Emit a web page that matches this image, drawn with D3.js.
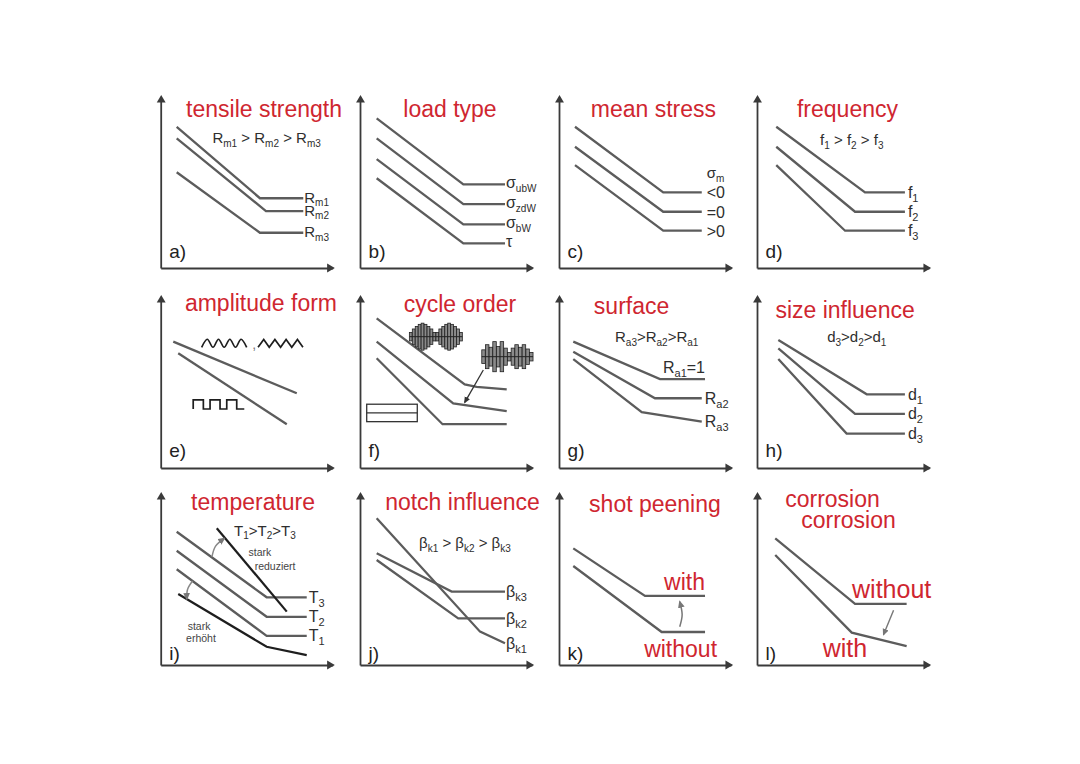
<!DOCTYPE html>
<html>
<head>
<meta charset="utf-8">
<script src="https://cdn.jsdelivr.net/npm/d3@7"></script>
<style>
  body { margin: 0; background: #fff; }
  svg { display: block; font-family: "Liberation Sans", Arial, sans-serif; }
</style>
</head>
<body>
<svg id="chart" width="1080" height="764"></svg>
<script>
// ---- data (curve points are in 0..100 panel units, x = life, y = stress) ----
const panelLetters = ["a)", "b)", "c)", "d)", "e)", "f)", "g)", "h)", "i)", "j)", "k)", "l)"];
const panelTitles = [
  ["tensile strength"], ["load type"], ["mean stress"], ["frequency"],
  ["amplitude form"], ["cycle order"], ["surface"], ["size influence"],
  ["temperature"], ["notch influence"], ["shot peening"], ["corrosion", "corrosion"]
];
// "_xx" marks a subscript
const relationTexts = ["R_m1 > R_m2 > R_m3", "", "", "f_1 > f_2 > f_3", "", "",
  "R_a3>R_a2>R_a1", "d_3>d_2>d_1", "T_1>T_2>T_3", "β_k1 > β_k2 > β_k3", "", ""];

const tensileCurves = [
  { label: "R_m1", pts: [[9.3, 82.6], [57.7, 40.8], [82.9, 40.8]] },
  { label: "R_m2", pts: [[9.3, 75.8], [61.2, 33.3], [82.9, 33.3]] },
  { label: "R_m3", pts: [[9.3, 56.0], [57.7, 20.6], [82.9, 20.6]] }
];
const loadCurves = [
  { label: "σ_ubW", pts: [[9.7, 87.5], [60.1, 48.9], [84.3, 48.9]] },
  { label: "σ_zdW", pts: [[9.7, 75.8], [60.1, 37.3], [84.3, 37.3]] },
  { label: "σ_bW", pts: [[9.7, 63.7], [60.1, 25.5], [84.3, 25.5]] },
  { label: "τ", pts: [[9.7, 52.5], [60.1, 14.4], [84.3, 14.4]] }
];
const meanStressCurves = [
  { label: "<0", pts: [[9.3, 82.6], [60.6, 44.2], [83.0, 44.2]] },
  { label: "=0", pts: [[9.3, 70.9], [60.6, 32.9], [83.0, 32.9]] },
  { label: ">0", pts: [[9.3, 60.2], [60.6, 21.8], [83.0, 21.8]] }
];
const frequencyCurves = [
  { label: "f_1", pts: [[11.2, 82.6], [62.8, 44.2], [86.0, 44.2]] },
  { label: "f_2", pts: [[11.2, 70.9], [57.0, 32.9], [86.0, 32.9]] },
  { label: "f_3", pts: [[11.2, 60.2], [51.2, 21.8], [86.0, 21.8]] }
];
const amplitudeCurves = [
  { pts: [[7.3, 73.9], [79.1, 43.7]] },
  { pts: [[10.2, 67.1], [73.3, 25.6]] }
];
const cycleCurves = [
  { pts: [[9.7, 87.5], [60.9, 48.9], [67.8, 47.5], [85.3, 46.0]] },
  { pts: [[9.7, 73.9], [54.2, 37.8], [85.3, 33.3]] },
  { pts: [[9.7, 64.2], [48.0, 25.6], [85.3, 25.6]] }
];
const surfaceCurves = [
  { label: "R_a1=1", pts: [[8.3, 73.9], [58.7, 52.0], [84.9, 52.0]] },
  { label: "R_a2", pts: [[8.3, 68.0], [55.8, 40.8], [83.0, 40.8]] },
  { label: "R_a3", pts: [[8.3, 63.7], [48.1, 32.6], [83.0, 27.1]] }
];
const sizeCurves = [
  { label: "d_1", pts: [[12.4, 74.9], [63.8, 43.1], [86.0, 43.1]] },
  { label: "d_2", pts: [[12.4, 70.0], [57.0, 31.6], [86.0, 31.6]] },
  { label: "d_3", pts: [[12.4, 63.7], [52.1, 20.1], [86.0, 20.1]] }
];
const temperatureCurves = [
  { label: "T_3", pts: [[9.3, 77.9], [61.6, 39.6], [84.9, 39.6]] },
  { label: "T_2", pts: [[9.3, 66.8], [61.6, 28.2], [84.9, 28.2]] },
  { label: "T_1", pts: [[9.3, 56.0], [61.6, 17.0], [84.9, 17.0]] },
  { pts: [[10.2, 41.5], [61.6, 10.7], [84.9, 5.8]] },   // stark erhöht
  { pts: [[32.6, 80.0], [73.3, 31.2]] }                 // stark reduziert
];
const notchCurves = [
  { label: "β_k3", pts: [[9.7, 65.3], [53.3, 42.9], [84.3, 42.9]] },
  { label: "β_k2", pts: [[9.7, 61.4], [57.1, 27.3], [84.3, 27.3]] },
  { label: "β_k1", pts: [[9.7, 85.8], [69.8, 19.5], [84.3, 12.7]] }
];
const peeningCurves = [
  { label: "with", pts: [[8.3, 68.2], [50.0, 40.4], [84.9, 40.4]] },
  { label: "without", pts: [[8.3, 57.9], [59.7, 19.3], [84.9, 19.3]] }
];
const corrosionCurves = [
  { label: "without", pts: [[10.6, 74.1], [57.0, 35.7], [87.0, 35.7]] },
  { label: "with", pts: [[10.6, 64.3], [55.1, 18.9], [87.0, 11.1]] }
];
const temperatureNotes = ["stark", "reduziert", "stark", "erhöht"];

// little signal sketches
const sineWave = [[23.8, 70.6], [27.1, 75.3], [30.4, 70.6], [33.6, 75.3], [36.9, 70.6],
  [40.2, 75.3], [43.5, 70.6], [46.7, 75.3], [50.0, 70.6]];
const triangleWave = [[56.6, 70.6], [59.9, 75.2], [63.1, 70.6], [66.4, 75.2], [69.7, 70.6],
  [72.9, 75.2], [76.2, 70.6], [79.5, 75.2], [82.7, 70.6]];
const squareWave = [[18.9, 34.5], [18.9, 39.8], [24.8, 39.8], [24.8, 34.5], [28.7, 34.5],
  [28.7, 39.8], [34.5, 39.8], [34.5, 34.5], [38.4, 34.5], [38.4, 39.8], [44.2, 39.8],
  [44.2, 34.5], [48.6, 34.5]];
const blockSeqA = [2.5, 4.5, 6, 7.2, 7.9, 7.2, 6, 4.5, 2.5, 2.5, 4.5, 6, 7.2, 7.9, 7.2, 6, 4.5, 2.5];
const blockSeqB = [4, 7, 5.5, 8.8, 6, 8.8, 5, 2.5, 5, 7, 5.5, 7, 4.5, 2.5];
const constBlock = [[3.9, 27.1], [33.3, 37.3]];

const cycleArrow = [[71.7, 57.3], [60.9, 38.4]];
const peeningArrow = [[70.2, 22.4], [71.6, 29.5], [70.2, 37.0]];
const corrosionArrow = [[79.4, 32.0], [73.6, 17.8]];
const tempArcs = [
  [[29.8, 63.2], [31.9, 69.5], [37.0, 74.0]],
  [[18.5, 49.1], [15.6, 44.2], [15.2, 38.6]]
];

const panelCurves = [tensileCurves, loadCurves, meanStressCurves, frequencyCurves,
  amplitudeCurves, cycleCurves, surfaceCurves, sizeCurves,
  temperatureCurves, notchCurves, peeningCurves, corrosionCurves];

// ---- layout ----
const colX = [160.7, 360, 559, 757];
const rowBottom = [268, 468, 665];
const axisW = 172, axisH = 171;
const titlePos = [
  [[60.1, 88.3]], [[52.3, 88.3]], [[54.9, 88.3]], [[52.6, 88.3]],
  [[58.3, 91.8]], [[58.1, 91.2]], [[42.2, 90.1]], [[51.2, 87.7]],
  [[53.7, 90.6]], [[59.6, 90.6]], [[55.8, 89.5]], [[43.9, 92.6], [53.2, 80.2]]
];
const relationPos = [[61.6, 73.1], null, null, [55.1, 71.9], null, null,
  [56.8, 73.7], [58.0, 73.7], [60.6, 75.6], [61.0, 68.4], null, null];
const notePos = [[57.7, 63.7], [66.5, 55.6], [22.3, 20.5], [23.4, 13.5]];
const letterV = [5.8, 6.4, 2.9];
const labelLayout = {
  0: { dx: 1, dy: 4.5, size: 15, sub: 10 },
  1: { dx: 1, dy: 4, size: 16, sub: 10 },
  2: { dx: 5, dy: 6, size: 16, sub: 11 },
  3: { dx: 3, dy: 5.5, size: 16, sub: 11 },
  6: { dx: 3, dy: 5.5, size: 16, sub: 11 },
  7: { dx: 3, dy: 5.5, size: 16, sub: 11 },
  8: { dx: 2, dy: 5.5, size: 16, sub: 11 },
  9: { dx: 1, dy: 5.5, size: 16, sub: 11 }
};
const aboveLabels = { 6: [0] };
const darkCurves = { 8: [3, 4] };
const redLabels = {
  10: { size: 23, spots: [{ at: 2, dx: 0, dy: -6, anchor: "end" }, { at: 2, dx: 12, dy: 25, anchor: "end" }] },
  11: { size: 25, spots: [{ at: 1, dx: -3, dy: -6, anchor: "start" }, { at: 1, dx: -29, dy: 24, anchor: "start" }] }
};

const LINE = "#5c5c5c", DARK = "#1e1e1e", AXIS = "#3a3a3a", TEXT = "#2e2e2e", RED = "#cf2630";

const svg = d3.select("#chart");
svg.append("rect").attr("width", 1080).attr("height", 764).attr("fill", "#fff");

const defs = svg.append("defs");
[["arrowDark", "#333"], ["arrowGrey", "#777"]].forEach(([id, c]) => {
  defs.append("marker")
    .attr("id", id)
    .attr("viewBox", "0 0 10 10")
    .attr("refX", 8).attr("refY", 5)
    .attr("markerWidth", 5).attr("markerHeight", 5)
    .attr("orient", "auto")
    .append("path").attr("d", "M0,0.5L10,5L0,9.5Z").attr("fill", c);
});

function richText(textSel, str, size, subSize) {
  const parts = str.split(/_([A-Za-z0-9]+)/);
  const shift = size * 0.24;
  let shifted = false;
  parts.forEach((p, i) => {
    if (p === "") return;
    const isSub = i % 2 === 1;
    const t = textSel.append("tspan").text(p).attr("font-size", isSub ? subSize : size);
    if (isSub && !shifted) { t.attr("dy", shift); shifted = true; }
    else if (!isSub && shifted) { t.attr("dy", -shift); shifted = false; }
  });
}

function drawPanel(i) {
  const col = i % 4, row = Math.floor(i / 4);
  const g = svg.append("g")
    .attr("transform", "translate(" + colX[col] + "," + (rowBottom[row] - axisH) + ")");

  const x = d3.scaleLinear().domain([0, 100]).range([0, axisW]);
  const y = d3.scaleLinear().domain([0, 100]).range([axisH, 0]);
  const line = d3.line().x(d => x(d[0])).y(d => y(d[1]));

  // axes without ticks, just the arrows
  g.append("g").attr("transform", "translate(0," + axisH + ")").attr("color", AXIS)
    .call(d3.axisBottom(x).tickValues([]).tickSizeOuter(0));
  g.append("g").attr("color", AXIS)
    .call(d3.axisLeft(y).tickValues([]).tickSizeOuter(0));
  g.selectAll(".domain").attr("stroke-width", 1.8);
  const tri = d3.symbol().type(d3.symbolTriangle).size(34);
  g.append("path").attr("d", tri).attr("fill", AXIS)
    .attr("transform", "translate(" + (x.range()[1] - 3) + "," + axisH + ") rotate(90)");
  g.append("path").attr("d", tri).attr("fill", AXIS)
    .attr("transform", "translate(0.5," + (y.range()[1] + 3) + ")");

  // title
  panelTitles[i].forEach((t, k) => {
    const p = titlePos[i][k];
    g.append("text")
      .attr("x", x(p[0])).attr("y", y(p[1]))
      .attr("text-anchor", "middle")
      .attr("font-size", 23)
      .attr("fill", RED)
      .text(t);
  });

  // panel letter
  g.append("text")
    .attr("x", x(5)).attr("y", y(letterV[row]))
    .attr("font-size", 19)
    .attr("fill", "#222")
    .text(panelLetters[i]);

  // relation text
  if (relationTexts[i]) {
    const p = relationPos[i];
    const t = g.append("text")
      .attr("x", x(p[0])).attr("y", y(p[1]))
      .attr("text-anchor", "middle")
      .attr("fill", TEXT)
      .style("white-space", "pre");
    richText(t, relationTexts[i], 15, 10);
  }

  // S-N curves
  const curves = panelCurves[i];
  const dark = darkCurves[i] || [];
  g.selectAll(".curve")
    .data(curves)
    .join("path")
    .attr("class", "curve")
    .attr("d", d => line(d.pts))
    .attr("fill", "none")
    .attr("stroke", (d, k) => dark.includes(k) ? DARK : LINE)
    .attr("stroke-width", (d, k) => dark.includes(k) ? 2.2 : 2.3);

  // curve labels
  const lay = labelLayout[i];
  if (lay) {
    const above = aboveLabels[i] || [];
    curves.forEach((c, k) => {
      if (!c.label) return;
      const end = c.pts[c.pts.length - 1];
      const t = g.append("text").attr("fill", TEXT).style("white-space", "pre");
      if (above.includes(k)) {
        t.attr("x", x(end[0])).attr("y", y(end[1]) - 6).attr("text-anchor", "end");
      } else {
        t.attr("x", x(end[0]) + lay.dx).attr("y", y(end[1]) + lay.dy);
      }
      richText(t, c.label, lay.size, lay.sub);
    });
  }
  if (redLabels[i]) {
    const rl = redLabels[i];
    curves.forEach((c, k) => {
      const s = rl.spots[k];
      const p = c.pts[s.at];
      g.append("text")
        .attr("x", x(p[0]) + s.dx).attr("y", y(p[1]) + s.dy)
        .attr("text-anchor", s.anchor)
        .attr("font-size", rl.size)
        .attr("fill", RED)
        .text(c.label);
    });
  }

  // panel specific sketches
  if (i === 2) {
    const end = curves[0].pts[2];
    const t = g.append("text").attr("x", x(end[0]) + 5).attr("y", y(end[1]) - 14).attr("fill", TEXT);
    richText(t, "σ_m", 15, 10);
  }
  if (i === 4) {
    const smooth = d3.line().x(d => x(d[0])).y(d => y(d[1])).curve(d3.curveMonotoneX);
    g.append("path").attr("d", smooth(sineWave))
      .attr("fill", "none").attr("stroke", DARK).attr("stroke-width", 1.7);
    g.append("path").attr("d", line(triangleWave))
      .attr("fill", "none").attr("stroke", DARK).attr("stroke-width", 1.7);
    g.append("path").attr("d", line(squareWave))
      .attr("fill", "none").attr("stroke", DARK).attr("stroke-width", 1.7);
    g.append("text").attr("x", x(53.2)).attr("y", y(69.5)).attr("font-size", 14)
      .attr("fill", "#777").text(",");
  }
  if (i === 5) {
    // constant amplitude block
    g.append("rect")
      .attr("x", x(constBlock[0][0])).attr("y", y(constBlock[1][1]))
      .attr("width", x(constBlock[1][0]) - x(constBlock[0][0]))
      .attr("height", y(constBlock[0][1]) - y(constBlock[1][1]))
      .attr("fill", "none").attr("stroke", "#333").attr("stroke-width", 1.3);
    const midV = (constBlock[0][1] + constBlock[1][1]) / 2;
    g.append("path").attr("d", line([[constBlock[0][0], midV], [constBlock[1][0], midV]]))
      .attr("stroke", "#333").attr("stroke-width", 1.3);

    // block sequences
    const drawBlocks = (seq, u0, u1, vc) => {
      const bx = d3.scaleBand().domain(d3.range(seq.length)).range([x(u0), x(u1)]).paddingInner(0.05);
      const bg = g.append("g");
      bg.selectAll("rect").data(seq).join("rect")
        .attr("x", (d, k) => bx(k))
        .attr("width", bx.bandwidth())
        .attr("y", d => y(vc + d))
        .attr("height", d => y(vc - d) - y(vc + d))
        .attr("fill", "#8a8a8a")
        .attr("stroke", "#222")
        .attr("stroke-width", 0.8);
      bg.append("path").attr("d", line([[u0, vc], [u1, vc]]))
        .attr("stroke", "#222").attr("stroke-width", 1);
    };
    drawBlocks(blockSeqA, 28.7, 59.5, 76.8);
    drawBlocks(blockSeqB, 70.8, 100.6, 65.1);

    g.append("path").attr("d", line(cycleArrow))
      .attr("stroke", "#333").attr("stroke-width", 1.3).attr("marker-end", "url(#arrowDark)");
  }
  if (i === 8) {
    const arc = d3.line().x(d => x(d[0])).y(d => y(d[1])).curve(d3.curveNatural);
    tempArcs.forEach(a => {
      g.append("path").attr("d", arc(a)).attr("fill", "none")
        .attr("stroke", "#888").attr("stroke-width", 1.5).attr("marker-end", "url(#arrowGrey)");
    });
    g.selectAll(".note").data(temperatureNotes).join("text")
      .attr("class", "note")
      .attr("x", (d, k) => x(notePos[k][0])).attr("y", (d, k) => y(notePos[k][1]))
      .attr("text-anchor", "middle")
      .attr("font-size", 10.5)
      .attr("fill", "#444")
      .text(d => d);
  }
  if (i === 10) {
    const arc = d3.line().x(d => x(d[0])).y(d => y(d[1])).curve(d3.curveNatural);
    g.append("path").attr("d", arc(peeningArrow)).attr("fill", "none")
      .attr("stroke", "#777").attr("stroke-width", 1.5).attr("marker-end", "url(#arrowGrey)");
  }
  if (i === 11) {
    g.append("path").attr("d", line(corrosionArrow))
      .attr("stroke", "#777").attr("stroke-width", 1.4).attr("marker-end", "url(#arrowGrey)");
  }
}

d3.range(12).forEach(drawPanel);
</script>
</body>
</html>
